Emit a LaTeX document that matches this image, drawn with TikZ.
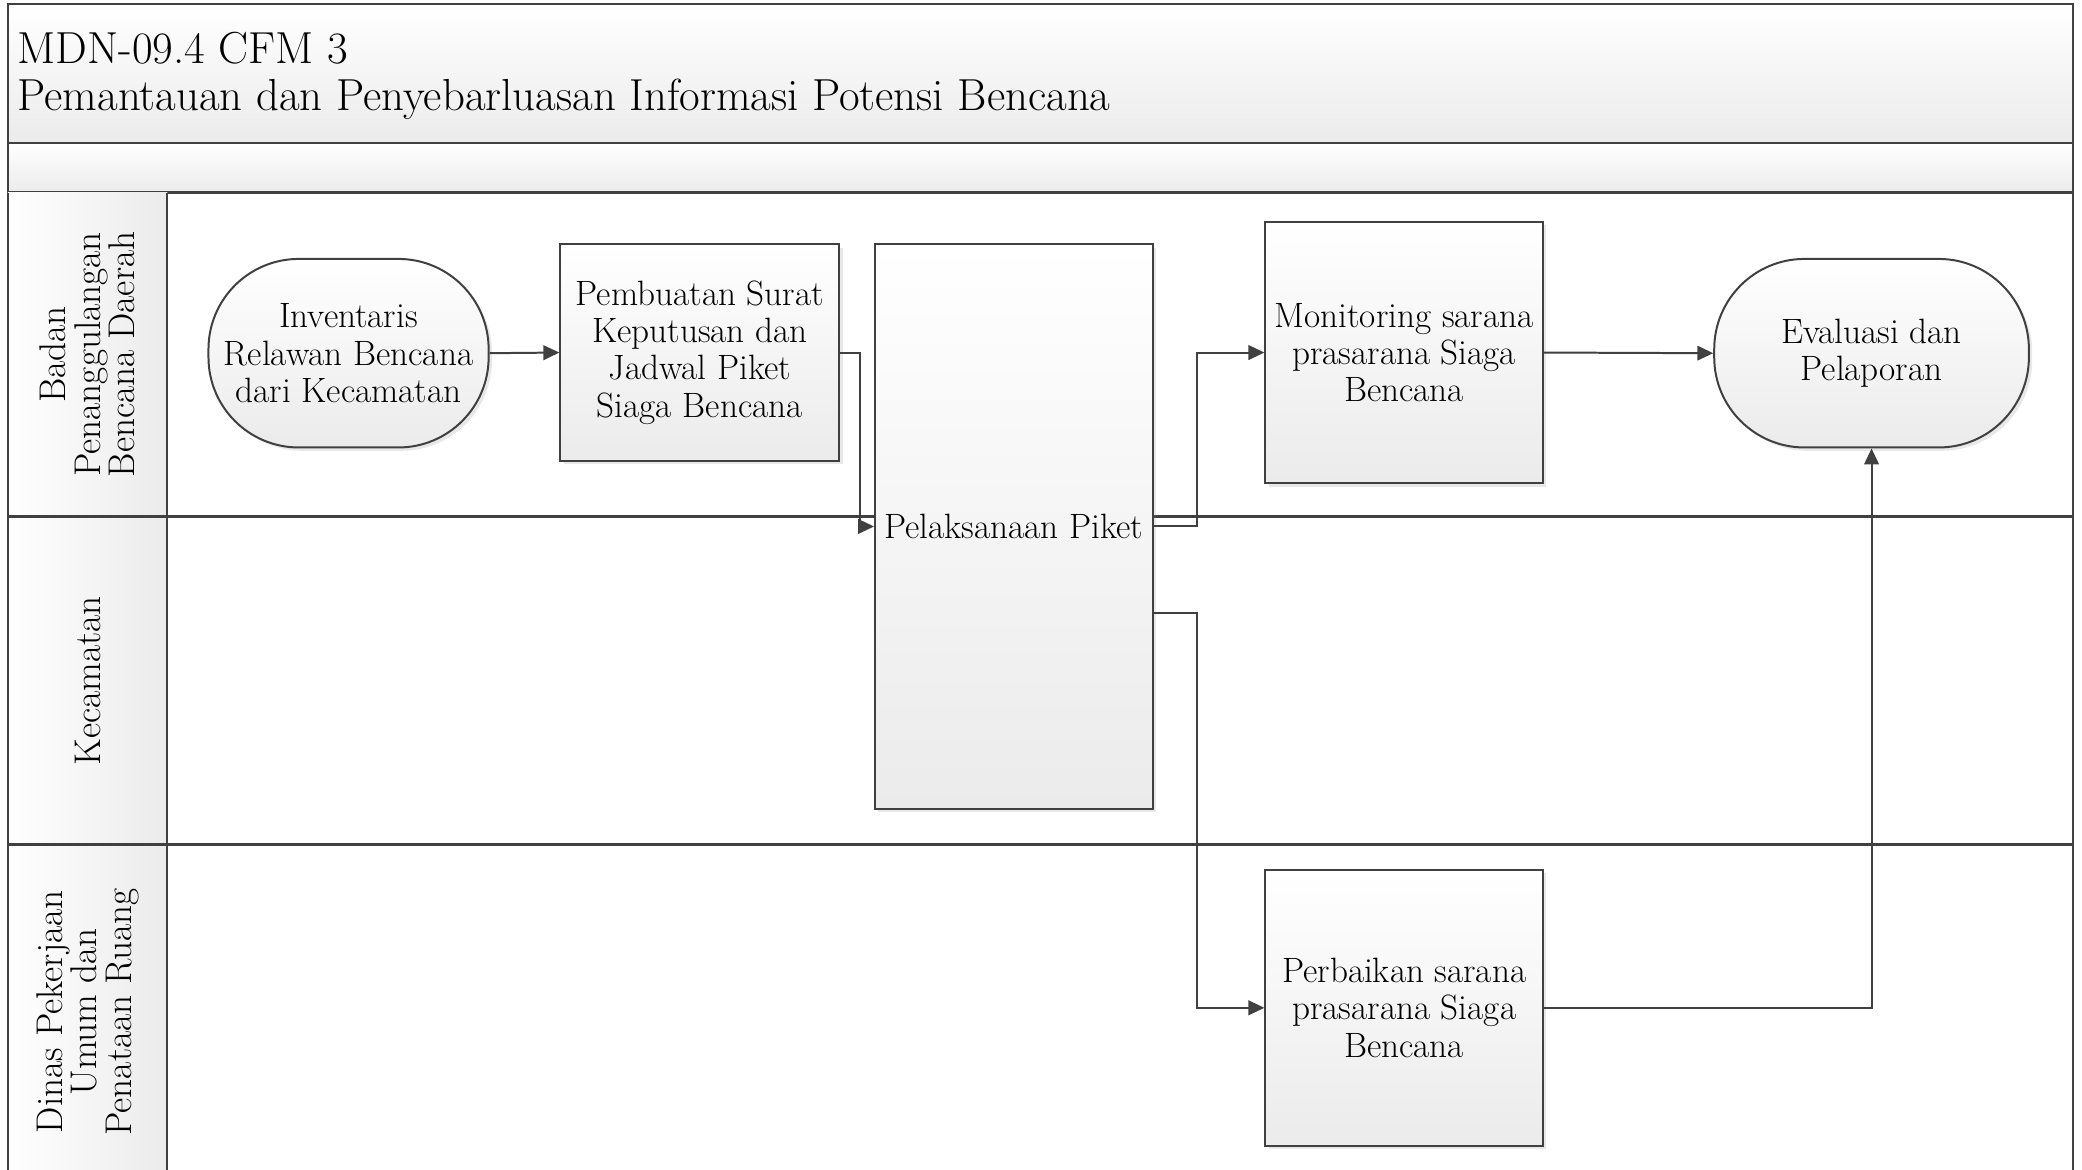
\documentclass[tikz,border=0pt]{standalone}
\usepackage{xcolor}
\usepackage{tikz}
\usetikzlibrary{arrows.meta,shadows}

\definecolor{linegray}{HTML}{404040}
\definecolor{fillgray}{HTML}{EBEBEB}

\tikzset{
  procbox/.style={draw=linegray,line width=1.5pt,top color=white,bottom color=fillgray,
    align=center,inner sep=0pt,font=\fontsize{26.5}{28}\selectfont,
    drop shadow={shadow xshift=2.5pt,shadow yshift=-2.5pt,opacity=0.18}},
  termbox/.style={procbox,rounded corners=68pt},
  flow/.style={draw=linegray,line width=1.5pt,-{Triangle[length=12pt,width=11pt]}},
  lanetext/.style={rotate=90,align=center,font=\fontsize{28}{26}\selectfont},
  border/.style={draw=linegray,line width=1.6pt}
}

\begin{document}
\begin{tikzpicture}[x=1pt,y=-1pt]
\useasboundingbox (0,0) rectangle (1568,881);
% header and band
\draw[border,top color=white,bottom color=fillgray] (6,3) rectangle (1561,108);
\draw[border,top color=white,bottom color=fillgray] (6,108) rectangle (1561,145);
\node[anchor=west,align=left,inner sep=0pt,font=\fontsize{33.8}{35}\selectfont] (title) at (13,57)
  {MDN-09.4 CFM 3\\Pemantauan dan Penyebarluasan Informasi Potensi Bencana};
% lane label column
\path[left color=white,right color=fillgray] (6,145) rectangle (126,881);
\draw[border] (6,145) -- (6,881);
\draw[border] (1561,145) -- (1561,881);
\draw[border] (126,145) -- (126,881);
\foreach \y in {389,636}{
  \draw[border] (6,\y) -- (1561,\y);
}
% lane labels
\node[lanetext] (bpbd) at (66,267) {Badan\\Penanggulangan\\Bencana Daerah};
\node[lanetext] (kec) at (66,512.5) {Kecamatan};
\node[lanetext] (dpupr) at (66,762) {Dinas Pekerjaan\\Umum dan\\Penataan Ruang};
% steps
\node[termbox,minimum width=211pt,minimum height=142pt] (inventaris) at (262.5,266)
  {Inventaris\\Relawan Bencana\\dari Kecamatan};
\node[procbox,minimum width=210pt,minimum height=163pt] (pembuatan) at (527,265.5)
  {Pembuatan Surat\\Keputusan dan\\Jadwal Piket\\Siaga Bencana};
\node[procbox,minimum width=209pt,minimum height=425pt] (pelaksanaan) at (763.5,396.5)
  {Pelaksanaan Piket};
\node[procbox,minimum width=209pt,minimum height=197pt] (monitoring) at (1057.5,265.5)
  {Monitoring sarana\\prasarana Siaga\\Bencana};
\node[termbox,minimum width=237pt,minimum height=142pt] (evaluasi) at (1409.5,266)
  {Evaluasi dan\\Pelaporan};
\node[procbox,minimum width=209pt,minimum height=208pt] (perbaikan) at (1057.5,759)
  {Perbaikan sarana\\prasarana Siaga\\Bencana};
% flows
\draw[flow] (inventaris.east) -- (pembuatan.west);
\draw[flow] (pembuatan.east) -- ++(15,0) |- (pelaksanaan.west);
\draw[flow] (pelaksanaan.east) -- ++(33,0) |- (monitoring.west);
\draw[flow] ([yshift=-65pt]pelaksanaan.east) -- ++(33,0) |- (perbaikan.west);
\draw[flow] (monitoring.east) -- (evaluasi.west);
\draw[flow] (perbaikan.east) -| (evaluasi.south);
\end{tikzpicture}
\end{document}
